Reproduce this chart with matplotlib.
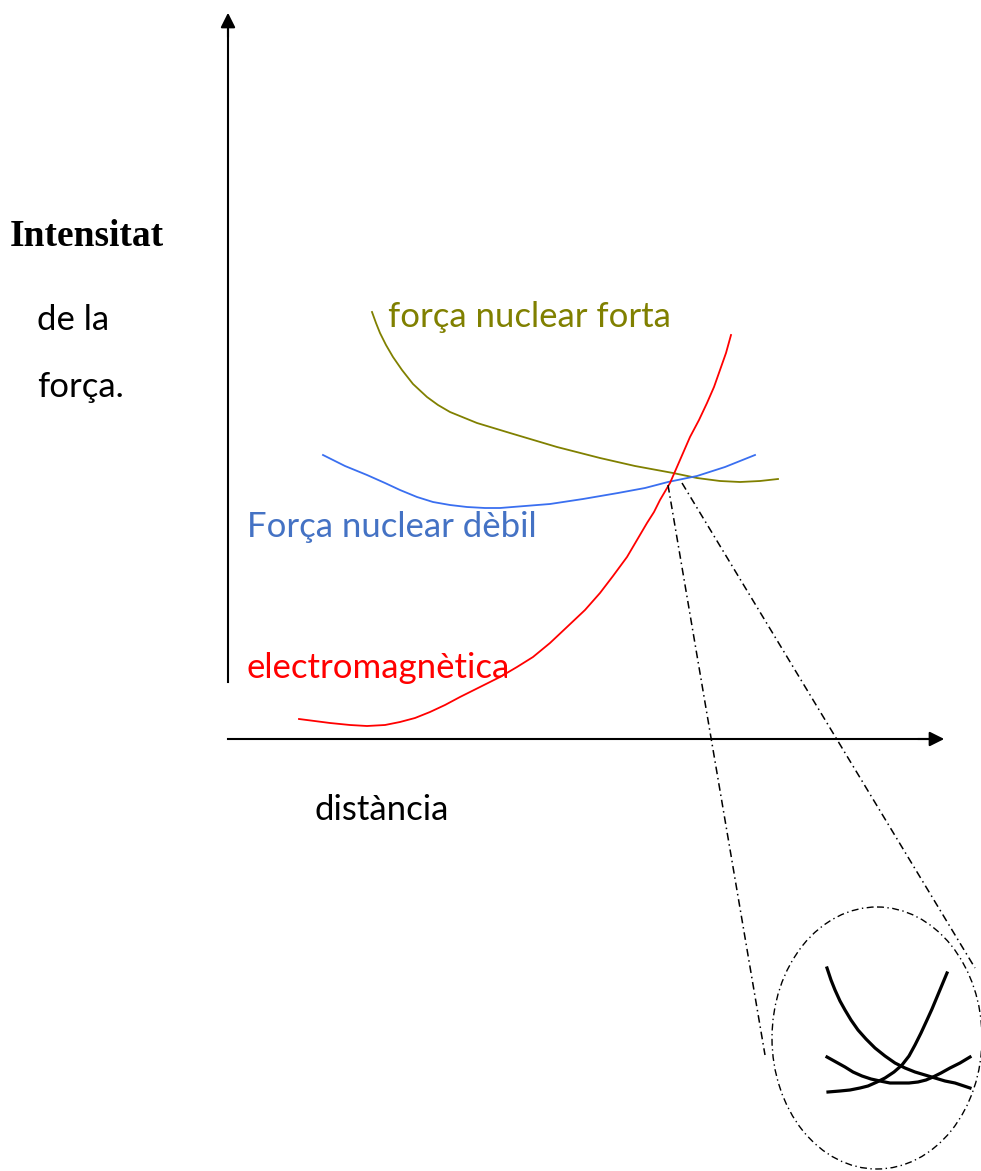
import matplotlib.pyplot as plt
from matplotlib.patches import Ellipse

# curves, in pixel coordinates (y grows downward)
strong_x = [372, 376, 380, 386, 393, 402, 413, 427, 438, 450, 477, 510, 557, 600, 635, 673, 697, 720, 740, 760, 778]
strong_y = [312, 323, 333, 345, 357, 370, 384, 397, 405, 412, 423, 433, 447, 458, 466, 473, 478, 481, 482, 481, 479]

weak_x = [323, 345, 367, 385, 400, 417, 433, 450, 467, 485, 500, 525, 550, 583, 618, 645, 668, 697, 725, 755]
weak_y = [455, 466, 475, 483, 490, 497, 502, 505, 507, 508, 508, 506, 504, 499, 493, 488, 482, 476, 467, 455]

em_x = [299, 330, 350, 367, 385, 400, 415, 430, 445, 460, 480, 500, 517, 533, 550, 567, 585, 600, 613, 627,
        637, 647, 654, 660, 670, 680, 690, 699, 707, 714, 720, 726, 731]
em_y = [719, 723, 725, 726, 725, 722, 718, 712, 705, 697, 687, 677, 667, 657, 643, 627, 610, 593, 576, 557,
        540, 523, 512, 500, 483, 460, 437, 420, 403, 387, 370, 353, 335]

# zoomed-in sketch inside the ellipse
zoom_a_x = [827, 831, 835, 840, 845, 851, 858, 866, 875, 885, 895, 905, 915, 925, 935, 945, 955, 970]
zoom_a_y = [968, 980, 990, 1001, 1010, 1020, 1030, 1039, 1048, 1056, 1063, 1068, 1072, 1075, 1078, 1081, 1083, 1088]
zoom_b_x = [828, 840, 850, 860, 868, 877, 885, 894, 902, 909, 915, 921, 927, 932, 937, 942, 947]
zoom_b_y = [1092, 1091, 1090, 1088, 1086, 1082, 1078, 1072, 1065, 1056, 1045, 1033, 1020, 1009, 997, 985, 973]
zoom_c_x = [827, 836, 845, 853, 862, 871, 880, 890, 900, 909, 918, 926, 933, 941, 950, 960, 970]
zoom_c_y = [1057, 1062, 1067, 1072, 1076, 1079, 1081, 1083, 1083, 1083, 1082, 1080, 1077, 1073, 1068, 1063, 1057]

W, H = 981, 1171
fig = plt.figure(figsize=(W / 100, H / 100), dpi=100)
ax = fig.add_axes([0, 0, 1, 1])
ax.set_xlim(0, W)
ax.set_ylim(H, 0)
ax.axis('off')

# axes
ax.plot([228, 228], [682, 30], color='black', lw=1.5)
ax.annotate('', xy=(228, 10), xytext=(228, 40),
            arrowprops=dict(arrowstyle='-|>', color='black', lw=1.5, mutation_scale=22))
ax.plot([228, 930], [739, 739], color='black', lw=1.5)
ax.annotate('', xy=(947, 739), xytext=(915, 739),
            arrowprops=dict(arrowstyle='-|>', color='black', lw=1.5, mutation_scale=22))

ax.plot(strong_x, strong_y, color='#808000', lw=1.3)
ax.plot(weak_x, weak_y, color='#3A6FF0', lw=1.3)
ax.plot(em_x, em_y, color='#FF0000', lw=1.3)

# zoom cone + ellipse
dd = (0, (5, 2.5, 1, 2.5))
ax.plot([668, 765], [485, 1055], color='black', lw=1.1, linestyle=dd)
ax.plot([682, 975], [483, 968], color='black', lw=1.1, linestyle=dd)
ax.add_patch(Ellipse((877, 1038), 210, 262, fill=False, ec='black', lw=1.0, linestyle=dd))

ax.plot(zoom_a_x, zoom_a_y, color='black', lw=2.3)
ax.plot(zoom_b_x, zoom_b_y, color='black', lw=2.3)
ax.plot(zoom_c_x, zoom_c_y, color='black', lw=2.3)

sans = 'Lato'
fs = 25
ax.text(10, 237, 'Intensitat', family='Liberation Serif', weight='bold', fontsize=27,
        va='center', ha='left')
ax.text(37, 320, 'de la', family=sans, fontsize=fs, va='center', ha='left')
ax.text(37, 387, 'força.', family=sans, fontsize=fs, va='center', ha='left')
ax.text(388, 317, 'força nuclear forta', family=sans, fontsize=fs, color='#808000',
        va='center', ha='left')
ax.text(247, 527, 'Força nuclear dèbil', family=sans, fontsize=fs, color='#4472C4',
        va='center', ha='left')
ax.text(247, 668, 'electromagnètica', family=sans, fontsize=fs, color='#FF0000',
        va='center', ha='left')
ax.text(315, 810, 'distància', family=sans, fontsize=fs, va='center', ha='left')

fig.savefig('out.png', dpi=100)
